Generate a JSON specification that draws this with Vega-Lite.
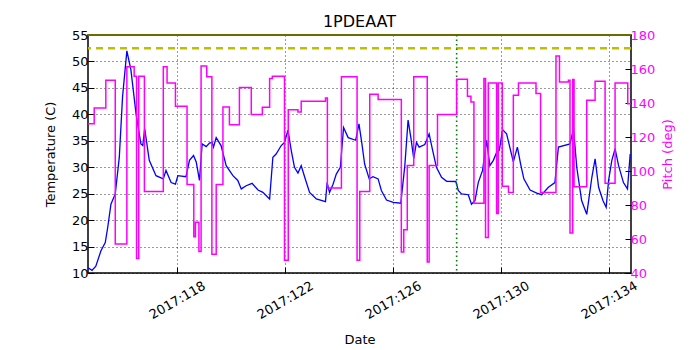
{
  "$schema": "https://vega.github.io/schema/vega-lite/v6.json",
  "width": 543,
  "height": 238,
  "autosize": {"type": "none"},
  "padding": {"left": 88, "top": 35, "right": 69, "bottom": 77},
  "title": {"text": "1PDEAAT", "fontSize": 16, "font": "DejaVu Sans", "fontWeight": "normal", "color": "black", "offset": -1, "anchor": "middle"},
  "config": {
    "font": "DejaVu Sans",
    "view": {"stroke": "black", "strokeWidth": 1.5},
    "axis": {
      "domain": false,
      "labelFont": "DejaVu Sans",
      "labelFontSize": 13,
      "labelColor": "black",
      "titleFont": "DejaVu Sans",
      "titleFontSize": 13,
      "titleFontWeight": "normal",
      "titleColor": "black",
      "tickColor": "black",
      "gridColor": "black",
      "gridDash": [1, 3],
      "gridWidth": 0.8,
      "gridOpacity": 1
    }
  },
  "datasets": {
    "temp": [
      {"day": 114.70, "temp": 11.0}, {"day": 114.85, "temp": 10.5}, {"day": 114.99, "temp": 11.3},
      {"day": 115.18, "temp": 14.2}, {"day": 115.34, "temp": 15.75}, {"day": 115.43, "temp": 18.6},
      {"day": 115.55, "temp": 23.0}, {"day": 115.71, "temp": 24.95}, {"day": 115.86, "temp": 31.9},
      {"day": 115.98, "temp": 43.3}, {"day": 116.14, "temp": 52.0}, {"day": 116.29, "temp": 48.4},
      {"day": 116.48, "temp": 40.1}, {"day": 116.66, "temp": 34.4}, {"day": 116.73, "temp": 34.1},
      {"day": 116.80, "temp": 37.3}, {"day": 116.97, "temp": 31.3}, {"day": 117.22, "temp": 28.4},
      {"day": 117.49, "temp": 27.8}, {"day": 117.59, "temp": 29.4}, {"day": 117.78, "temp": 27.1},
      {"day": 117.94, "temp": 26.8}, {"day": 118.03, "temp": 28.4}, {"day": 118.33, "temp": 28.2},
      {"day": 118.46, "temp": 31.3}, {"day": 118.61, "temp": 32.2}, {"day": 118.71, "temp": 31.0},
      {"day": 118.83, "temp": 27.5}, {"day": 118.93, "temp": 34.4}, {"day": 119.08, "temp": 33.9},
      {"day": 119.20, "temp": 34.55}, {"day": 119.30, "temp": 34.7}, {"day": 119.35, "temp": 33.8},
      {"day": 119.45, "temp": 35.6}, {"day": 119.63, "temp": 34.1}, {"day": 119.82, "temp": 30.3},
      {"day": 120.07, "temp": 28.4}, {"day": 120.25, "temp": 27.5}, {"day": 120.38, "temp": 25.9},
      {"day": 120.56, "temp": 26.5}, {"day": 120.78, "temp": 26.95}, {"day": 121.00, "temp": 25.7},
      {"day": 121.18, "temp": 25.25}, {"day": 121.43, "temp": 24.0}, {"day": 121.55, "temp": 31.9},
      {"day": 121.67, "temp": 32.5}, {"day": 121.86, "temp": 34.1}, {"day": 121.98, "temp": 34.7},
      {"day": 122.11, "temp": 37.0}, {"day": 122.23, "temp": 33.2}, {"day": 122.35, "temp": 30.0},
      {"day": 122.48, "temp": 28.9}, {"day": 122.60, "temp": 30.3}, {"day": 122.73, "temp": 28.1},
      {"day": 122.91, "temp": 25.25}, {"day": 123.16, "temp": 24.0}, {"day": 123.50, "temp": 23.5},
      {"day": 123.56, "temp": 27.1}, {"day": 123.65, "temp": 25.25}, {"day": 123.78, "temp": 26.8},
      {"day": 123.90, "temp": 28.7}, {"day": 124.05, "temp": 30.0}, {"day": 124.17, "temp": 37.5},
      {"day": 124.34, "temp": 35.6}, {"day": 124.62, "temp": 35.1}, {"day": 124.74, "temp": 38.2},
      {"day": 124.85, "temp": 34.4}, {"day": 124.95, "temp": 30.6}, {"day": 125.12, "temp": 27.8},
      {"day": 125.26, "temp": 28.2}, {"day": 125.45, "temp": 27.8}, {"day": 125.57, "temp": 25.6},
      {"day": 125.76, "temp": 23.8}, {"day": 126.01, "temp": 23.35}, {"day": 126.29, "temp": 23.2},
      {"day": 126.44, "temp": 30.3}, {"day": 126.56, "temp": 38.9}, {"day": 126.66, "temp": 35.7},
      {"day": 126.77, "temp": 31.6}, {"day": 126.87, "temp": 34.7}, {"day": 126.97, "temp": 33.8},
      {"day": 127.18, "temp": 34.3}, {"day": 127.34, "temp": 36.3}, {"day": 127.47, "temp": 33.2},
      {"day": 127.61, "temp": 30.0}, {"day": 127.80, "temp": 28.1}, {"day": 127.99, "temp": 27.35},
      {"day": 128.33, "temp": 27.3}, {"day": 128.42, "temp": 25.6}, {"day": 128.54, "temp": 24.95},
      {"day": 128.79, "temp": 24.8}, {"day": 128.91, "temp": 23.0}, {"day": 129.04, "temp": 23.7},
      {"day": 129.16, "temp": 27.1}, {"day": 129.32, "temp": 29.4}, {"day": 129.47, "temp": 35.1},
      {"day": 129.59, "temp": 30.3}, {"day": 129.72, "temp": 31.3}, {"day": 129.84, "temp": 32.8},
      {"day": 129.94, "temp": 33.2}, {"day": 130.06, "temp": 37.1}, {"day": 130.21, "temp": 36.3},
      {"day": 130.46, "temp": 31.0}, {"day": 130.61, "temp": 33.8}, {"day": 130.73, "temp": 30.6},
      {"day": 130.85, "temp": 27.8}, {"day": 131.08, "temp": 25.7}, {"day": 131.33, "temp": 25.1},
      {"day": 131.51, "temp": 24.8}, {"day": 131.76, "temp": 26.2}, {"day": 132.00, "temp": 27.1},
      {"day": 132.13, "temp": 33.8}, {"day": 132.56, "temp": 34.4}, {"day": 132.69, "temp": 37.3},
      {"day": 132.81, "temp": 30.0}, {"day": 132.99, "temp": 23.7}, {"day": 133.18, "temp": 21.1},
      {"day": 133.37, "temp": 28.1}, {"day": 133.49, "temp": 31.6}, {"day": 133.62, "temp": 26.2},
      {"day": 133.78, "temp": 23.7}, {"day": 133.90, "temp": 22.4}, {"day": 133.99, "temp": 27.5},
      {"day": 134.11, "temp": 31.3}, {"day": 134.23, "temp": 33.5}, {"day": 134.36, "temp": 30.3},
      {"day": 134.54, "temp": 27.1}, {"day": 134.69, "temp": 25.9}, {"day": 134.79, "temp": 32.5}
    ],
    "pitch": [
      {"day": 114.70, "pitch": 127.8}, {"day": 114.93, "pitch": 137.1}, {"day": 115.36, "pitch": 153.4},
      {"day": 115.71, "pitch": 57.0}, {"day": 116.14, "pitch": 161.3}, {"day": 116.41, "pitch": 155.8},
      {"day": 116.50, "pitch": 48.5}, {"day": 116.58, "pitch": 155.8}, {"day": 116.79, "pitch": 87.9},
      {"day": 117.49, "pitch": 161.3}, {"day": 117.63, "pitch": 151.8}, {"day": 117.94, "pitch": 138.1},
      {"day": 118.37, "pitch": 92.0}, {"day": 118.62, "pitch": 61.3}, {"day": 118.68, "pitch": 69.8},
      {"day": 118.81, "pitch": 52.6}, {"day": 118.89, "pitch": 161.7}, {"day": 119.10, "pitch": 155.4},
      {"day": 119.29, "pitch": 51.0}, {"day": 119.45, "pitch": 92.0}, {"day": 119.70, "pitch": 137.7},
      {"day": 119.94, "pitch": 127.2}, {"day": 120.31, "pitch": 149.1}, {"day": 120.75, "pitch": 133.2},
      {"day": 121.16, "pitch": 137.5}, {"day": 121.43, "pitch": 154.4}, {"day": 121.53, "pitch": 155.8},
      {"day": 121.98, "pitch": 47.5}, {"day": 122.12, "pitch": 136.1}, {"day": 122.48, "pitch": 134.7},
      {"day": 122.60, "pitch": 141.0}, {"day": 123.50, "pitch": 143.0}, {"day": 123.57, "pitch": 90.0},
      {"day": 124.09, "pitch": 155.4}, {"day": 124.67, "pitch": 47.5}, {"day": 124.77, "pitch": 88.0},
      {"day": 125.14, "pitch": 145.2}, {"day": 125.45, "pitch": 142.0}, {"day": 126.31, "pitch": 52.4},
      {"day": 126.40, "pitch": 65.4}, {"day": 126.53, "pitch": 103.2}, {"day": 126.77, "pitch": 155.4},
      {"day": 127.27, "pitch": 46.5}, {"day": 127.34, "pitch": 103.2}, {"day": 127.65, "pitch": 133.2},
      {"day": 128.36, "pitch": 154.0}, {"day": 128.76, "pitch": 144.0}, {"day": 128.89, "pitch": 140.6},
      {"day": 129.00, "pitch": 81.0}, {"day": 129.37, "pitch": 154.4}, {"day": 129.43, "pitch": 60.9},
      {"day": 129.53, "pitch": 151.8}, {"day": 129.84, "pitch": 75.0}, {"day": 129.90, "pitch": 151.8},
      {"day": 130.05, "pitch": 91.0}, {"day": 130.28, "pitch": 87.4}, {"day": 130.46, "pitch": 144.6},
      {"day": 130.65, "pitch": 151.8}, {"day": 131.30, "pitch": 145.6}, {"day": 131.47, "pitch": 87.3},
      {"day": 132.04, "pitch": 167.6}, {"day": 132.17, "pitch": 152.4}, {"day": 132.50, "pitch": 153.4},
      {"day": 132.56, "pitch": 63.5}, {"day": 132.66, "pitch": 153.8}, {"day": 132.71, "pitch": 90.8},
      {"day": 133.18, "pitch": 141.6}, {"day": 133.49, "pitch": 152.8}, {"day": 133.86, "pitch": 92.8},
      {"day": 134.23, "pitch": 151.8}, {"day": 134.70, "pitch": 139.6}, {"day": 134.82, "pitch": 139.6}
    ]
  },
  "layer": [
    {
      "data": {"name": "temp"},
      "mark": {"type": "line", "color": "#0000ff", "strokeWidth": 1.3, "clip": true},
      "encoding": {
        "x": {
          "field": "day", "type": "quantitative",
          "scale": {"domain": [114.7, 134.82], "nice": false, "zero": false},
          "axis": {
            "title": "Date",
            "values": [118, 122, 126, 130, 134],
            "labelExpr": "'2017:' + datum.value",
            "labelAngle": -30,
            "labelAlign": "center",
            "labelBaseline": "middle",
            "labelPadding": 33,
            "tickSize": -6,
            "grid": true,
            "titlePadding": 12,
            "labelOverlap": false,
            "labelFlush": false
          }
        },
        "y": {
          "field": "temp", "type": "quantitative",
          "scale": {"domain": [10, 55], "nice": false, "zero": false},
          "axis": {
            "title": "Temperature (C)",
            "values": [10, 15, 20, 25, 30, 35, 40, 45, 50, 55],
            "tickSize": -6,
            "labelPadding": 6,
            "grid": true,
            "titlePadding": 14
          }
        }
      }
    },
    {
      "data": {"values": [{"limit": 52.5}]},
      "mark": {"type": "rule", "color": "#bfbf00", "strokeWidth": 2.5, "strokeDash": [7, 5]},
      "encoding": {"y": {"field": "limit", "type": "quantitative", "scale": {"domain": [10, 55], "nice": false, "zero": false}, "axis": null}}
    },
    {
      "data": {"values": [{"limit": 55}]},
      "mark": {"type": "rule", "color": "#6b6b00", "strokeWidth": 2},
      "encoding": {"y": {"field": "limit", "type": "quantitative", "scale": {"domain": [10, 55], "nice": false, "zero": false}, "axis": null}}
    },
    {
      "data": {"values": [{"day": 128.36}]},
      "mark": {"type": "rule", "color": "#008000", "strokeWidth": 1.6, "strokeDash": [1.5, 3]},
      "encoding": {"x": {"field": "day", "type": "quantitative"}}
    },
    {
      "data": {"name": "pitch"},
      "mark": {"type": "line", "color": "#ff00ff", "strokeWidth": 1.5, "interpolate": "step-after", "clip": true},
      "encoding": {
        "x": {"field": "day", "type": "quantitative"},
        "y": {
          "field": "pitch", "type": "quantitative",
          "scale": {"domain": [40, 180], "nice": false, "zero": false},
          "axis": {
            "orient": "right",
            "title": "Pitch (deg)",
            "titleAngle": 270,
            "titleBaseline": "top",
            "titleColor": "#ff00ff",
            "labelColor": "#ff00ff",
            "values": [40, 60, 80, 100, 120, 140, 160, 180],
            "tickSize": -6,
            "labelPadding": 5,
            "grid": false,
            "titlePadding": 7
          }
        }
      }
    }
  ],
  "resolve": {"scale": {"y": "independent"}}
}
